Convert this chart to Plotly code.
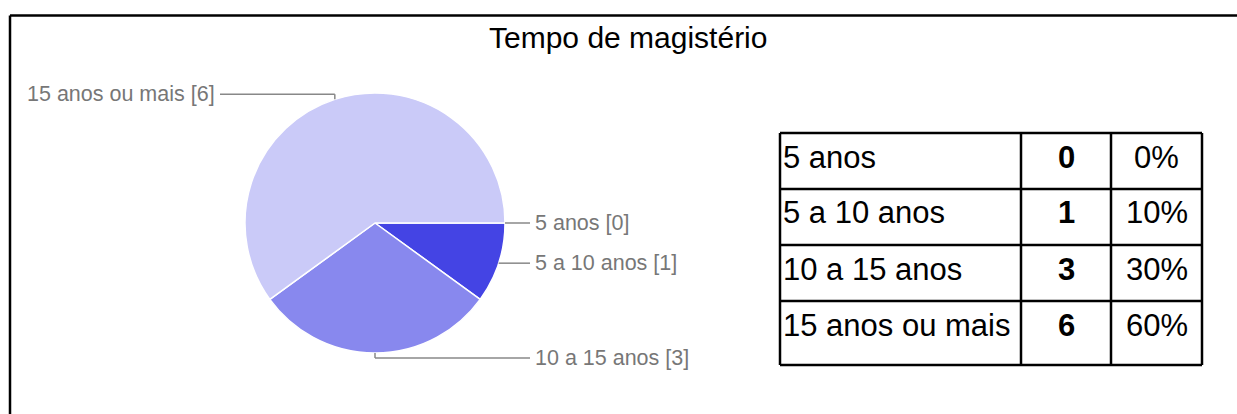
import math
import plotly.graph_objects as go

# ---- data ----
categories = ["5 anos", "5 a 10 anos", "10 a 15 anos", "15 anos ou mais"]
counts = [0, 1, 3, 6]
slice_colors = ["#2a2ad8", "#4444E4", "#8888EE", "#CACAF8"]
title_text = "Tempo de magistério"

# ---- layout geometry (pixels) ----
W, H = 1237, 414
CX, CY, R = 375, 223, 130
FONT = "Liberation Sans, Arial, Helvetica, sans-serif"
GRAY_TXT = "#777777"
GRAY_LINE = "#888888"


def px(x):
    return x / W


def py(y):
    return 1 - y / H


total = sum(counts)
percents = [round(100 * c / total) for c in counts]

fig = go.Figure()
fig.add_trace(go.Pie(
    labels=categories,
    values=counts,
    sort=False,
    direction="clockwise",
    rotation=90,
    marker=dict(colors=slice_colors, line=dict(color="white", width=1.5)),
    textinfo="none",
    hoverinfo="label+value+percent",
    showlegend=False,
    domain=dict(x=[px(CX - R), px(CX + R)], y=[py(CY + R), py(CY - R)]),
))

shapes = []
annotations = []

# ---- pie labels with leader lines ----
cum = 0
for cat, v in zip(categories, counts):
    mid = math.radians((cum + v / 2) / total * 360)
    cum += v
    c, s = math.cos(mid), math.sin(mid)
    xp, yp = CX + R * c, CY + R * s
    yl = yp + (5 * (1 if s > 0 else -1) if abs(s) > 0.9 else 0)
    right = c >= -1e-9
    xe = CX + (R + 25) if right else CX - (R + 25)
    line = dict(color=GRAY_LINE, width=1.5)
    if abs(yl - yp) > 0.1:
        shapes.append(dict(type="line", xref="paper", yref="paper",
                           x0=px(xp), y0=py(yp), x1=px(xp), y1=py(yl), line=line))
    shapes.append(dict(type="line", xref="paper", yref="paper",
                       x0=px(xp), y0=py(yl), x1=px(xe), y1=py(yl), line=line))
    annotations.append(dict(
        text=f"{cat} [{v}]", xref="paper", yref="paper",
        x=px(xe + (3 if right else -3)), y=py(yl),
        xanchor="left" if right else "right", yanchor="middle",
        showarrow=False, font=dict(family=FONT, size=21.5, color=GRAY_TXT)))

# ---- table ----
col_x = [780, 1021, 1111, 1202]
row_top = [133, 189, 245, 301, 365]
blk = dict(color="black", width=2.5)
for x in col_x:
    shapes.append(dict(type="line", xref="paper", yref="paper",
                       x0=px(x), y0=py(row_top[0]), x1=px(x), y1=py(row_top[-1]), line=blk))
for y in row_top:
    shapes.append(dict(type="line", xref="paper", yref="paper",
                       x0=px(col_x[0]), y0=py(y), x1=px(col_x[-1]), y1=py(y), line=blk))

tfont = dict(family=FONT, size=31, color="black")
for i, (cat, v, p) in enumerate(zip(categories, counts, percents)):
    yc = py(row_top[i] + 24)
    annotations.append(dict(text=cat, xref="paper", yref="paper", x=px(col_x[0] + 1), y=yc,
                            xanchor="left", yanchor="middle", showarrow=False, font=tfont))
    annotations.append(dict(text=f"<b>{v}</b>", xref="paper", yref="paper",
                            x=px((col_x[1] + col_x[2]) / 2), y=yc,
                            xanchor="center", yanchor="middle", showarrow=False, font=tfont))
    annotations.append(dict(text=f"{p}%", xref="paper", yref="paper",
                            x=px((col_x[2] + col_x[3]) / 2), y=yc,
                            xanchor="center", yanchor="middle", showarrow=False, font=tfont))

# ---- outer frame (top and left edges) ----
shapes.append(dict(type="line", xref="paper", yref="paper",
                   x0=px(10), y0=py(15.5), x1=px(W), y1=py(15.5), line=blk))
shapes.append(dict(type="line", xref="paper", yref="paper",
                   x0=px(10), y0=py(15.5), x1=px(10), y1=py(H), line=blk))

annotations.append(dict(text=title_text, xref="paper", yref="paper",
                        x=px(628), y=py(38), xanchor="center", yanchor="middle",
                        showarrow=False, font=dict(family=FONT, size=30, color="black")))

fig.update_layout(
    width=W, height=H,
    margin=dict(l=0, r=0, t=0, b=0),
    paper_bgcolor="white", plot_bgcolor="white",
    shapes=shapes, annotations=annotations,
)

fig.write_html("out.html", config={"displayModeBar": False},
               post_script="document.body.style.margin='0';document.body.style.overflow='hidden';")
